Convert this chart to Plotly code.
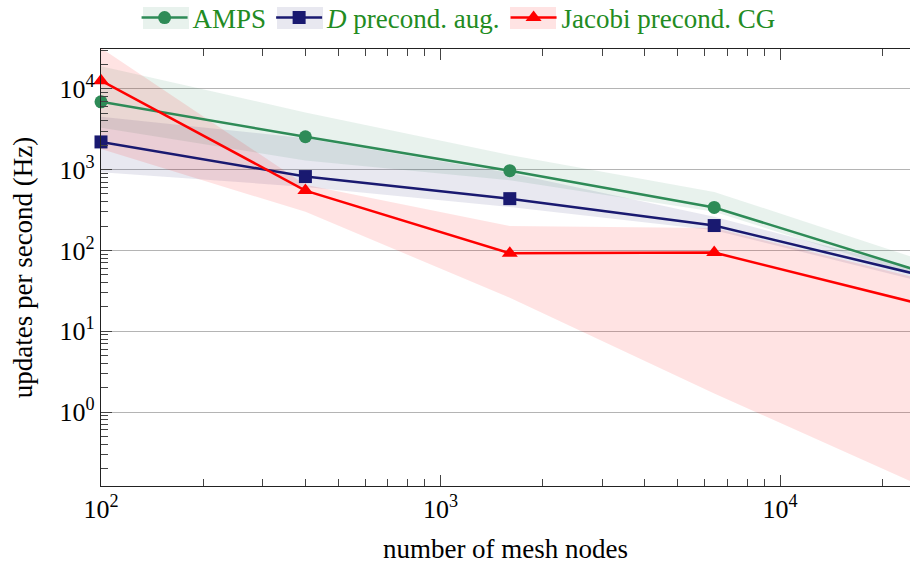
import math
import plotly.graph_objects as go

# ---------------- data ----------------
nodes = [100, 400, 1600, 6400, 25600]

amps = [6900, 2550, 970, 340, 56]
amps_hi = [19000, 5100, 1515, 530, 78]
amps_lo = [3300, 1300, 740, 300, 48]

dprec = [2200, 820, 437, 203, 50]
dprec_hi = [4500, 2450, 910, 260, 58]
dprec_lo = [930, 610, 345, 178, 42]

jacobi = [12600, 550, 92, 94, 22]
jacobi_hi = [32000, 650, 200, 190, 45]
jacobi_lo = [1800, 300, 26, 1.7, 0.125]

series_names = ["AMPS", "<i>D</i> precond. aug.", "Jacobi precond. CG"]

x_tickvals = [100, 1000, 10000]
x_ticktext = ["10<sup>2</sup>", "10<sup>3</sup>", "10<sup>4</sup>"]
y_tickvals = [1, 10, 100, 1000, 10000]
y_ticktext = ["10<sup>0</sup>", "10<sup>1</sup>", "10<sup>2</sup>", "10<sup>3</sup>", "10<sup>4</sup>"]

x_title = "number of mesh nodes"
y_title = "updates per second (Hz)"

# ---------------- style ----------------
FONT = "Liberation Serif"
c_green = "#2e8b57"
c_blue = "#191970"
c_red = "#ff0000"
f_green = "rgba(46,139,87,0.11)"
f_blue = "rgba(25,25,112,0.10)"
f_red = "rgba(255,0,0,0.11)"
legend_text = "#228b22"

fig = go.Figure()

bands = [(amps_hi, amps_lo, f_green), (dprec_hi, dprec_lo, f_blue), (jacobi_hi, jacobi_lo, f_red)]
for hi, lo, fc in bands:
    fig.add_trace(go.Scatter(
        x=nodes + nodes[::-1], y=hi + lo[::-1],
        fill="toself", fillcolor=fc, mode="lines", line=dict(width=0),
        hoverinfo="skip", showlegend=False))

lines = [
    (amps, c_green, "circle", 13),
    (dprec, c_blue, "square", 13),
    (jacobi, c_red, "triangle-up", 14),
]
for (vals, col, sym, ms), name in zip(lines, series_names):
    fig.add_trace(go.Scatter(
        x=nodes, y=vals, name=name, mode="lines+markers",
        line=dict(color=col, width=2.5),
        marker=dict(color=col, symbol=sym, size=ms, line=dict(width=0)),
        cliponaxis=False))

# plot area: left 101px, right 910px, top 49px, bottom 486px
PL, PR, PT, PB = 101, 910, 49, 486
xr = [2.0, 2.0 + (PR - PL) / 339.5]
yr = [(412 - PB) / 80.8, (412 - PT) / 80.8]

def px2paper_x(px):
    return (px - PL) / (PR - PL)

def px2paper_y(py):
    return (PB - py) / (PB - PT)

# light boxes behind the legend symbols
legend_boxes = [(143, 189, f_green), (277, 323, f_blue), (510, 556, f_red)]
for x0, x1, fc in legend_boxes:
    fig.add_shape(type="rect", xref="paper", yref="paper",
                  x0=px2paper_x(x0), x1=px2paper_x(x1),
                  y0=px2paper_y(29), y1=px2paper_y(7),
                  fillcolor=fc, line=dict(width=0), layer="below")

axis_common = dict(
    showline=True, linecolor="#222222", linewidth=1.2,
    ticks="inside", tickcolor="#444444", tickwidth=1,
    zeroline=False,
)

fig.update_xaxes(
    type="log", range=xr, tickmode="array", tickvals=x_tickvals, ticktext=x_ticktext,
    ticklen=11, mirror="ticks", showgrid=False,
    minor=dict(ticks="inside", ticklen=7, tickcolor="#444444", dtick="D1", showgrid=False),
    tickfont=dict(family=FONT, size=26, color="black"),
    title=dict(text=x_title, font=dict(family=FONT, size=27, color="black"), standoff=15),
    **axis_common)

fig.update_yaxes(
    type="log", range=yr, tickmode="array", tickvals=y_tickvals, ticktext=y_ticktext,
    ticklen=11, mirror=False, showgrid=True, gridcolor="#b4b4b4", gridwidth=1,
    minor=dict(ticks="inside", ticklen=7, tickcolor="#444444", dtick="D1", showgrid=False),
    tickfont=dict(family=FONT, size=26, color="black"),
    title=dict(text=y_title, font=dict(family=FONT, size=27, color="black"), standoff=19),
    **axis_common)

fig.update_layout(
    width=911, height=565,
    margin=dict(l=PL, r=911 - PR, t=PT, b=565 - PB, autoexpand=False),
    plot_bgcolor="white", paper_bgcolor="white",
    font=dict(family=FONT, size=26, color="black"),
    legend=dict(orientation="h", x=0.442, y=px2paper_y(18), xanchor="center", yanchor="middle",
                font=dict(family=FONT, size=27, color=legend_text),
                bgcolor="rgba(0,0,0,0)", itemwidth=46, tracegroupgap=0),
)

fig.write_html("out.html",
               config={"displayModeBar": False},
               post_script="document.body.style.margin='0';document.body.style.overflow='hidden';")
